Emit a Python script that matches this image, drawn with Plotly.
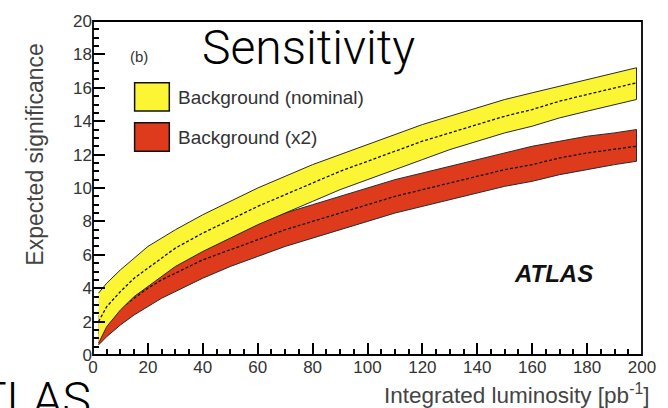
import plotly.graph_objects as go

# Integrated luminosity points [pb^-1]
lumi = [2, 5, 10, 15, 20, 25, 30, 40, 50, 60, 70, 80, 90, 100,
        110, 120, 130, 140, 150, 160, 170, 180, 190, 198]

# Nominal background: expected significance (central, band edges)
nom_mid = [2.0, 2.9, 3.8, 4.6, 5.2, 5.8, 6.4, 7.3, 8.1, 8.9, 9.6, 10.3, 11.0, 11.6,
           12.2, 12.8, 13.3, 13.8, 14.3, 14.7, 15.2, 15.6, 16.0, 16.3]
nom_hi = [3.7, 4.3, 5.1, 5.8, 6.5, 7.0, 7.5, 8.4, 9.2, 10.0, 10.7, 11.4, 12.0, 12.6,
          13.2, 13.8, 14.3, 14.8, 15.3, 15.7, 16.1, 16.5, 16.9, 17.2]
nom_lo = [0.7, 1.7, 2.7, 3.5, 4.1, 4.7, 5.3, 6.2, 7.0, 7.8, 8.5, 9.2, 9.9, 10.5,
          11.1, 11.7, 12.3, 12.8, 13.3, 13.7, 14.2, 14.6, 15.0, 15.3]

# Doubled background
x2_mid = [1.3, 2.0, 2.8, 3.4, 4.0, 4.5, 4.9, 5.7, 6.3, 6.9, 7.5, 8.0, 8.5, 9.0,
          9.5, 9.9, 10.3, 10.7, 11.1, 11.4, 11.8, 12.1, 12.3, 12.5]
x2_hi = [2.3, 3.1, 3.9, 4.5, 5.1, 5.5, 5.9, 6.7, 7.3, 7.9, 8.5, 9.0, 9.5, 10.0,
         10.5, 10.9, 11.3, 11.7, 12.1, 12.5, 12.8, 13.1, 13.3, 13.5]
x2_lo = [0.6, 1.1, 1.8, 2.4, 2.9, 3.4, 3.8, 4.6, 5.3, 5.9, 6.5, 7.0, 7.5, 8.0,
         8.5, 8.9, 9.3, 9.7, 10.1, 10.4, 10.8, 11.1, 11.4, 11.6]

X_RANGE = [0, 200]
Y_RANGE = [0, 20]

YELLOW = "#FBF533"
RED = "#DE3B1C"
EDGE = "#2a2a2a"
TXT = "#333333"
SANS = "Liberation Sans, Arial, sans-serif"
THIN = "Roboto, sans-serif"


def band(lo, hi, color):
    return go.Scatter(
        x=lumi + lumi[::-1], y=hi + lo[::-1], fill="toself", fillcolor=color,
        mode="lines", line=dict(color=EDGE, width=1), hoverinfo="skip",
        showlegend=False)


def centre(mid):
    return go.Scatter(
        x=lumi, y=mid, mode="lines", line=dict(color="#111", width=1.3, dash="3px,2px"),
        showlegend=False)


fig = go.Figure()
fig.add_trace(band(x2_lo, x2_hi, RED))
fig.add_trace(centre(x2_mid))
fig.add_trace(band(nom_lo, nom_hi, YELLOW))
fig.add_trace(centre(nom_mid))

tick_style = dict(ticks="inside", ticklen=12, tickwidth=1.5, tickcolor="black",
                  showgrid=False, zeroline=False)

# Bottom/left axes carry the labels; top/right overlay axes repeat the ticks
fig.update_layout(
    xaxis=dict(range=X_RANGE, dtick=20, minor=dict(ticks="inside", dtick=5, ticklen=6),
               tickfont=dict(family=SANS, size=17, color=TXT), **tick_style),
    yaxis=dict(range=Y_RANGE, dtick=2, minor=dict(ticks="inside", dtick=0.5, ticklen=6),
               tickfont=dict(family=SANS, size=17, color=TXT), **tick_style),
    xaxis2=dict(range=X_RANGE, dtick=20, overlaying="x", side="top", anchor="y",
                showticklabels=False,
                minor=dict(ticks="inside", dtick=5, ticklen=6), **tick_style),
    yaxis2=dict(range=Y_RANGE, dtick=2, overlaying="y", side="right", anchor="x",
                showticklabels=False,
                minor=dict(ticks="inside", dtick=0.5, ticklen=6), **tick_style),
)

L, R, T, B = 93, 21, 14, 53
W, H = 668, 408
pw, ph = W - L - R, H - T - B


def px(xp):
    return (xp - L) / pw


def py(yp):
    return (H - B - yp) / ph


annotations = [
    dict(text="Expected significance", x=px(35), y=py(151), textangle=-90,
         font=dict(family=SANS, size=23, color="#444")),
    dict(text="Integrated luminosity [pb<sup>-1</sup>]", x=px(656), y=py(395),
         xanchor="right", font=dict(family=SANS, size=22.5, color="#444")),
    dict(text="(b)", x=px(139), y=py(50), font=dict(family=SANS, size=15, color=TXT)),
    dict(text="Background (nominal)", x=px(177), y=py(92), xanchor="left",
         font=dict(family=SANS, size=19, color=TXT)),
    dict(text="Background (x2)", x=px(177), y=py(133), xanchor="left",
         font=dict(family=SANS, size=19, color=TXT)),
    dict(text="<b><i>ATLAS</i></b>", x=px(558), y=py(272),
         font=dict(family=SANS, size=24, color="#111")),
    dict(text="Sensitivity", x=px(310), y=py(41),
         font=dict(family=THIN, size=48, color="#000", weight=300)),
    dict(text="ATLAS", x=px(93), y=py(400), xanchor="right",
         font=dict(family=THIN, size=48, color="#000", weight=300)),
]
for a in annotations:
    a.setdefault("xanchor", "center")
    a.update(xref="paper", yref="paper", showarrow=False, yanchor="middle")

shapes = [
    # frame around the plotting area
    dict(type="rect", xref="paper", yref="paper", x0=0, x1=1, y0=0, y1=1,
         line=dict(color="black", width=1.8), layer="above"),
    # legend swatches
    dict(type="rect", xref="paper", yref="paper", x0=px(135), x1=px(170),
         y0=py(106), y1=py(77), fillcolor=YELLOW, line=dict(color="#111", width=1.5)),
    dict(type="rect", xref="paper", yref="paper", x0=px(135), x1=px(170),
         y0=py(147), y1=py(118), fillcolor=RED, line=dict(color="#111", width=1.5)),
]

fig.update_layout(
    width=W, height=H, margin=dict(l=L, r=R, t=T, b=B),
    paper_bgcolor="white", plot_bgcolor="white",
    annotations=annotations, shapes=shapes, showlegend=False,
)

fig.write_html("out.html")
